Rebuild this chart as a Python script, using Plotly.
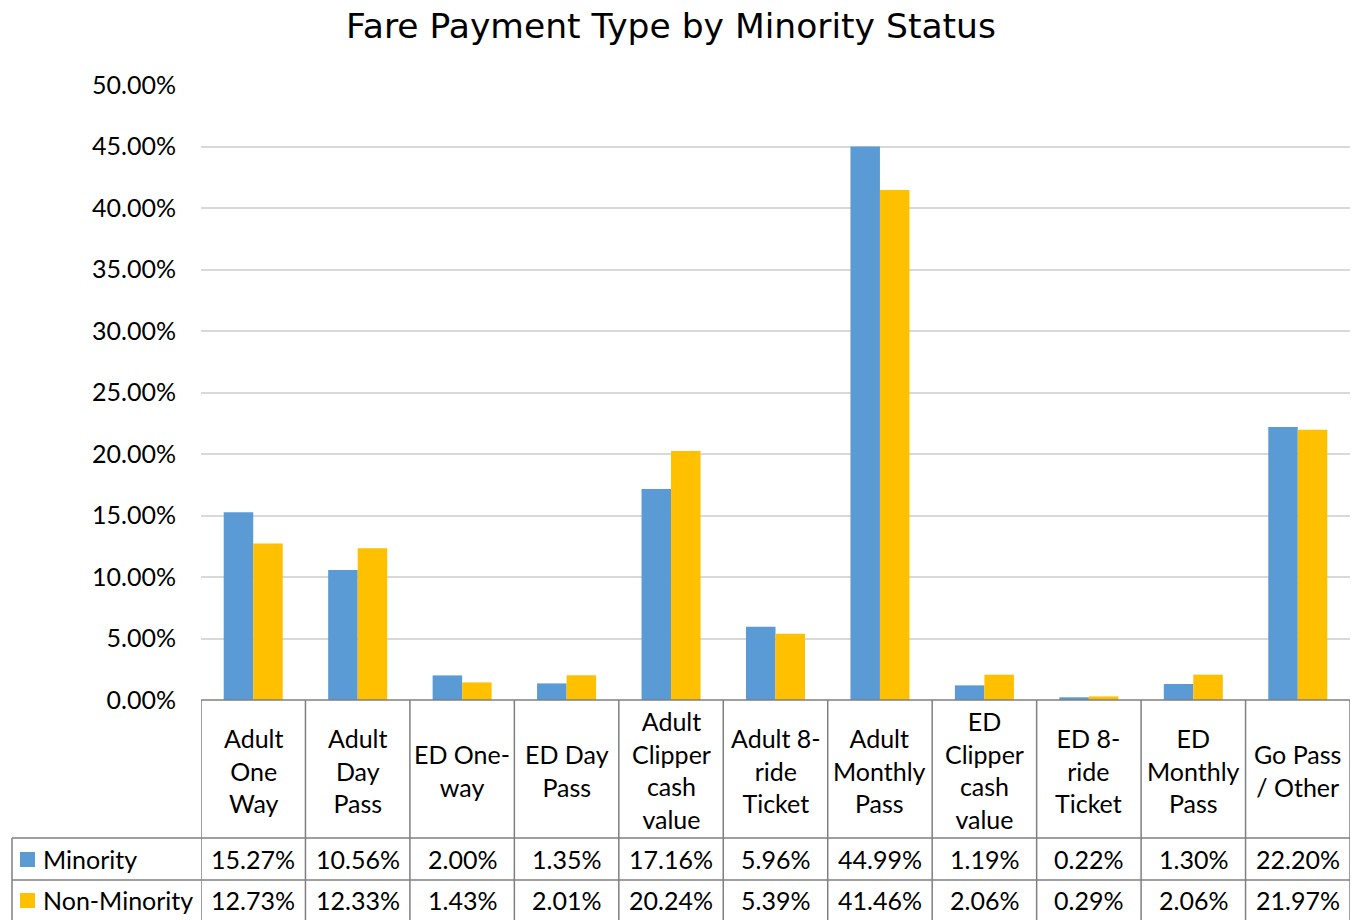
import plotly.graph_objects as go

# Data
categories = ["Adult One Way", "Adult Day Pass", "ED One-way", "ED Day Pass",
              "Adult Clipper cash value", "Adult 8-ride Ticket", "Adult Monthly Pass",
              "ED Clipper cash value", "ED 8-ride Ticket", "ED Monthly Pass",
              "Go Pass / Other"]
header_labels = ["Adult<br>One<br>Way", "Adult<br>Day<br>Pass", "ED One-<br>way",
                 "ED Day<br>Pass", "Adult<br>Clipper<br>cash<br>value",
                 "Adult 8-<br>ride<br>Ticket", "Adult<br>Monthly<br>Pass",
                 "ED<br>Clipper<br>cash<br>value", "ED 8-<br>ride<br>Ticket",
                 "ED<br>Monthly<br>Pass", "Go Pass<br>/ Other"]
minority = [15.27, 10.56, 2.00, 1.35, 17.16, 5.96, 44.99, 1.19, 0.22, 1.30, 22.20]
non_minority = [12.73, 12.33, 1.43, 2.01, 20.24, 5.39, 41.46, 2.06, 0.29, 2.06, 21.97]
series_names = ["Minority", "Non-Minority"]

blue = "#5B9BD5"
gold = "#FFC000"
border = "#7F7F7F"
font_family = "Lato, Carlito, sans-serif"

# body margin is removed in the page, so figure pixels == screen pixels
W, H = 1360, 920
plot_x0, plot_x1 = 201, 1350
plot_y0, plot_y1 = 85, 700
plot_w = plot_x1 - plot_x0
plot_h = plot_y1 - plot_y0


def px_to_paper_y(py):
    return (plot_y1 - py) / plot_h


def px_to_paper_x(px):
    return (px - plot_x0) / plot_w


fig = go.Figure()
fig.add_trace(go.Bar(x=categories, y=minority, name=series_names[0],
                     marker=dict(color=blue, line=dict(width=0))))
fig.add_trace(go.Bar(x=categories, y=non_minority, name=series_names[1],
                     marker=dict(color=gold, line=dict(width=0))))

shapes = []
annotations = []

# table grid: vertical lines at category boundaries
for i in range(len(categories) + 1):
    shapes.append(dict(type="line", xref="x", yref="paper",
                       x0=i - 0.5, x1=i - 0.5,
                       y0=px_to_paper_y(700), y1=px_to_paper_y(921),
                       line=dict(color=border, width=1.5)))
# left column edge
shapes.append(dict(type="line", xref="paper", yref="paper",
                   x0=px_to_paper_x(12), x1=px_to_paper_x(12),
                   y0=px_to_paper_y(838), y1=px_to_paper_y(921),
                   line=dict(color=border, width=1.5)))
# horizontal lines
shapes.append(dict(type="line", xref="paper", yref="paper", x0=0, x1=1,
                   y0=0, y1=0, line=dict(color=border, width=1.5)))
for py in [838, 880]:
    shapes.append(dict(type="line", xref="paper", yref="paper",
                       x0=px_to_paper_x(12), x1=1,
                       y0=px_to_paper_y(py), y1=px_to_paper_y(py),
                       line=dict(color=border, width=1.5)))

table_font = dict(size=25, color="black", family=font_family)

# header labels
for cat, lab in zip(categories, header_labels):
    annotations.append(dict(x=cat, xref="x", y=px_to_paper_y(770), yref="paper",
                            text=lab, showarrow=False, yanchor="middle",
                            font=table_font))

# value rows
row_y = [859, 900]
for vals, py in zip([minority, non_minority], row_y):
    for cat, v in zip(categories, vals):
        annotations.append(dict(x=cat, xref="x", y=px_to_paper_y(py), yref="paper",
                                text=f"{v:.2f}%", showarrow=False, yanchor="middle",
                                font=table_font))

# legend keys in table
for name, color, py in zip(series_names, [blue, gold], row_y):
    shapes.append(dict(type="rect", xref="paper", yref="paper",
                       x0=px_to_paper_x(20), x1=px_to_paper_x(35),
                       y0=px_to_paper_y(py - 7), y1=px_to_paper_y(py + 8),
                       fillcolor=color, line=dict(width=0)))
    annotations.append(dict(x=px_to_paper_x(41), xref="paper", y=px_to_paper_y(py),
                            yref="paper", text=name, showarrow=False,
                            xanchor="left", yanchor="middle", font=table_font))

fig.update_layout(
    width=W, height=H,
    margin=dict(l=plot_x0, r=W - plot_x1, t=plot_y0, b=H - plot_y1, pad=0),
    paper_bgcolor="white", plot_bgcolor="white",
    title=dict(text="Fare Payment Type by Minority Status",
               x=671 / W, xanchor="center",
               y=1 - 26 / H, yanchor="middle",
               font=dict(size=34.5, color="black", family="DejaVu Sans, sans-serif")),
    font=dict(family=font_family, color="black"),
    barmode="group", bargap=0.435, bargroupgap=0,
    showlegend=False,
    xaxis=dict(showticklabels=False, showgrid=False, zeroline=False, showline=False,
               range=[-0.5, len(categories) - 0.5]),
    yaxis=dict(range=[0, 50], dtick=5, tickformat=".2f", ticksuffix="%",
               showgrid=True, gridcolor="#D9D9D9", gridwidth=1.5, zeroline=False,
               showline=False, ticks="", ticklabelstandoff=24,
               tickfont=dict(size=25, color="black", family=font_family)),
    shapes=shapes,
    annotations=annotations,
)

fig.write_html("out.html", config={"displayModeBar": False},
               post_script="document.body.style.margin='0';")
